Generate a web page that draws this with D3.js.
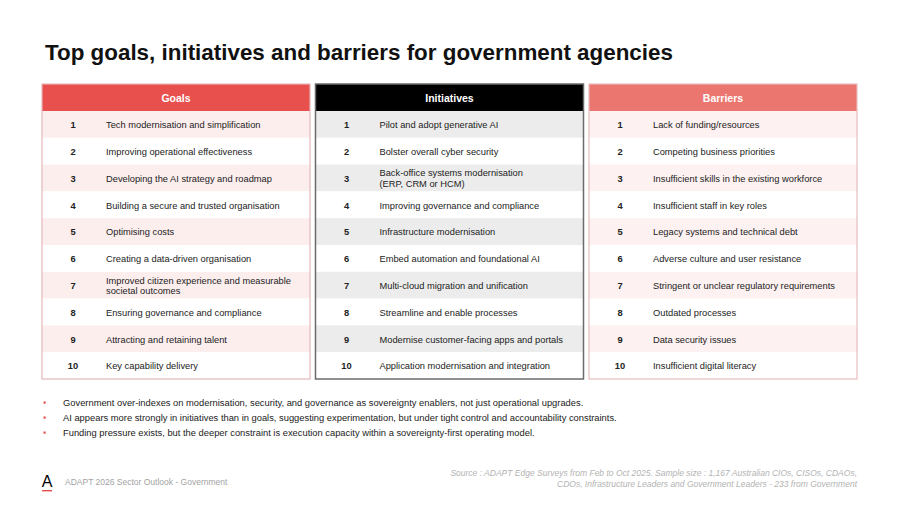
<!DOCTYPE html>
<html>
<head>
<meta charset="utf-8">
<script src="https://cdn.jsdelivr.net/npm/d3@7.9.0/dist/d3.min.js"></script>
<style>
  body { margin: 0; background: #fff; }
  svg { display: block; font-family: "Liberation Sans", Arial, sans-serif; }
</style>
</head>
<body>
<svg id="chart" width="900" height="506"></svg>
<script>
const panels = ['Goals', 'Initiatives', 'Barriers'];
const ranks = [1, 2, 3, 4, 5, 6, 7, 8, 9, 10];

const goals = [
  'Tech modernisation and simplification',
  'Improving operational effectiveness',
  'Developing the AI strategy and roadmap',
  'Building a secure and trusted organisation',
  'Optimising costs',
  'Creating a data-driven organisation',
  'Improved citizen experience and measurable\nsocietal outcomes',
  'Ensuring governance and compliance',
  'Attracting and retaining talent',
  'Key capability delivery'
];

const initiatives = [
  'Pilot and adopt generative AI',
  'Bolster overall cyber security',
  'Back-office systems modernisation\n(ERP, CRM or HCM)',
  'Improving governance and compliance',
  'Infrastructure modernisation',
  'Embed automation and foundational AI',
  'Multi-cloud migration and unification',
  'Streamline and enable processes',
  'Modernise customer-facing apps and portals',
  'Application modernisation and integration'
];

const barriers = [
  'Lack of funding/resources',
  'Competing business priorities',
  'Insufficient skills in the existing workforce',
  'Insufficient staff in key roles',
  'Legacy systems and technical debt',
  'Adverse culture and user resistance',
  'Stringent or unclear regulatory requirements',
  'Outdated processes',
  'Data security issues',
  'Insufficient digital literacy'
];

const bullets = [
  'Government over-indexes on modernisation, security, and governance as sovereignty enablers, not just operational upgrades.',
  'AI appears more strongly in initiatives than in goals, suggesting experimentation, but under tight control and accountability constraints.',
  'Funding pressure exists, but the deeper constraint is execution capacity within a sovereignty-first operating model.'
];

const sourceLines = [
  'Source : ADAPT Edge Surveys from Feb to Oct 2025. Sample size : 1,167 Australian CIOs, CISOs, CDAOs,',
  'CDOs, Infrastructure Leaders and Government Leaders - 233 from Government'
];

const items = { Goals: goals, Initiatives: initiatives, Barriers: barriers };
const styles = {
  Goals:       { head: '#e8504d', headText: '#fff', stripe: '#fdeeee', border: '#e3b8b8', bw: 1.2 },
  Initiatives: { head: '#000000', headText: '#fff', stripe: '#ececec', border: '#6b6b6b', bw: 1.5 },
  Barriers:    { head: '#eb7670', headText: '#fff', stripe: '#fdf1f1', border: '#e8bcbc', bw: 1.2 }
};

const svg = d3.select('#chart');

svg.append('text')
  .attr('x', 45).attr('y', 60)
  .attr('font-size', 22.4).attr('font-weight', 'bold').attr('fill', '#111')
  .text('Top goals, initiatives and barriers for government agencies');

const x = d3.scaleBand().domain(panels).range([42, 857]).paddingInner(0.02);
const headTop = 84, headBottom = 111;
const y = d3.scaleBand().domain(ranks).range([headBottom, 379]);

panels.forEach((p) => {
  const st = styles[p];
  const g = svg.append('g').attr('transform', `translate(${x(p)},0)`);
  const w = x.bandwidth();

  g.selectAll('rect.row')
    .data(ranks)
    .join('rect')
    .attr('class', 'row')
    .attr('x', 0).attr('y', (d) => y(d))
    .attr('width', w).attr('height', y.bandwidth())
    .attr('fill', (d) => (d % 2 === 1 ? st.stripe : '#fff'));

  g.append('rect')
    .attr('x', 0).attr('y', headTop)
    .attr('width', w).attr('height', headBottom - headTop)
    .attr('fill', st.head);

  g.append('text')
    .attr('x', w / 2).attr('y', (headTop + headBottom) / 2 + 4)
    .attr('text-anchor', 'middle')
    .attr('font-size', 10.5).attr('font-weight', 'bold')
    .attr('fill', st.headText)
    .text(p);

  g.selectAll('text.rank')
    .data(ranks)
    .join('text')
    .attr('class', 'rank')
    .attr('x', 31).attr('y', (d) => y(d) + y.bandwidth() / 2 + 3.8)
    .attr('text-anchor', 'middle')
    .attr('font-size', 9.3).attr('font-weight', 'bold').attr('fill', '#222')
    .text((d) => d);

  const labels = g.selectAll('text.label')
    .data(items[p])
    .join('text')
    .attr('class', 'label')
    .attr('font-size', 9.3).attr('fill', '#222');

  labels.each(function (d, i) {
    const lines = d.split('\n');
    const cy = y(ranks[i]) + y.bandwidth() / 2;
    const lh = 10.8;
    const t = d3.select(this);
    lines.forEach((ln, k) => {
      t.append('tspan')
        .attr('x', 64)
        .attr('y', cy + 3.8 + (k - (lines.length - 1) / 2) * lh)
        .text(ln);
    });
  });

  g.append('rect')
    .attr('x', 0).attr('y', headTop)
    .attr('width', w).attr('height', 379 - headTop)
    .attr('fill', 'none')
    .attr('stroke', st.border).attr('stroke-width', st.bw);
});

const by = d3.scalePoint().domain(d3.range(bullets.length)).range([405.5, 420.5 + 15]);
const bg = svg.append('g');
bg.selectAll('rect')
  .data(bullets)
  .join('rect')
  .attr('x', 43.5).attr('y', (d, i) => by(i) - 4)
  .attr('width', 2.2).attr('height', 2.2)
  .attr('fill', '#e8504d');
bg.selectAll('text')
  .data(bullets)
  .join('text')
  .attr('x', 63).attr('y', (d, i) => by(i))
  .attr('font-size', 9.35).attr('fill', '#222')
  .text((d) => d);

// footer logo and label
svg.append('text')
  .attr('x', 47).attr('y', 487)
  .attr('text-anchor', 'middle')
  .attr('font-size', 16).attr('fill', '#000')
  .text('A');
svg.append('rect')
  .attr('x', 42).attr('y', 490).attr('width', 10).attr('height', 1.4)
  .attr('fill', '#e8504d');
svg.append('text')
  .attr('x', 65).attr('y', 485)
  .attr('font-size', 8.5).attr('fill', '#a3a3a3')
  .text('ADAPT 2026 Sector Outlook - Government');

svg.selectAll('text.source')
  .data(sourceLines)
  .join('text')
  .attr('class', 'source')
  .attr('x', 857).attr('y', (d, i) => 476 + i * 11)
  .attr('text-anchor', 'end')
  .attr('font-size', 8.5).attr('font-style', 'italic').attr('fill', '#b3b3b3')
  .text((d) => d);
</script>
</body>
</html>
